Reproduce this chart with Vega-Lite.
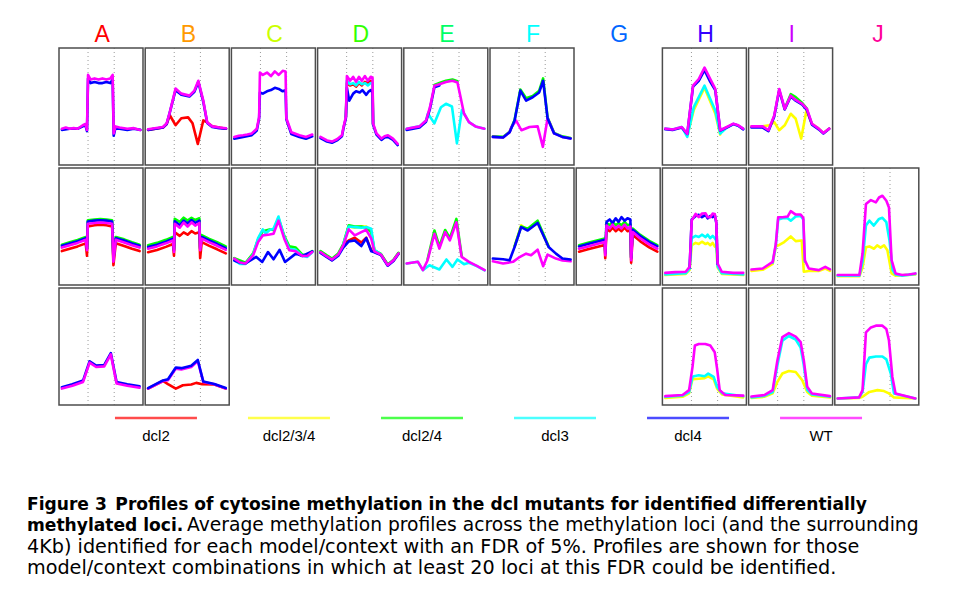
{
"$schema": "https://vega.github.io/schema/vega-lite/v6.json",
"background": "white",
"padding": {"left": 27, "top": 23, "right": 5, "bottom": 5},
"spacing": 0,
"resolve": {"scale": {"color": "independent", "x": "independent", "y": "independent"}},
"config": {"view": {"stroke": null}, "font": "Liberation Sans"},
"vconcat": [
{
"data": {"values": [{"c":"A"},{"c":"B"},{"c":"C"},{"c":"D"},{"c":"E"},{"c":"F"},{"c":"G"},{"c":"H"},{"c":"I"},{"c":"J"}]},
"width": 862,
"height": 24,
"mark": {"type": "text", "fontSize": 23, "font": "Liberation Sans", "baseline": "middle"},
"encoding": {
  "x": {"field": "c", "type": "nominal", "scale": {"type": "point", "padding": 0.5}, "axis": null},
  "text": {"field": "c"},
  "color": {"field": "c", "type": "nominal", "scale": {"domain": ["A","B","C","D","E","F","G","H","I","J"], "range": ["#ff0000","#ff9900","#ccff00","#33ff00","#00ff66","#00ffff","#0066ff","#3300ff","#cc00ff","#ff0099"]}, "legend": null}
}
},
{
"data": {"values": [
{"c":"A","r":1,"s":"dcl4","x":0,"y":0.30},{"c":"A","r":1,"s":"dcl4","x":0.3,"y":0.31},{"c":"A","r":1,"s":"dcl4","x":0.6,"y":0.31},{"c":"A","r":1,"s":"dcl4","x":0.8,"y":0.33},{"c":"A","r":1,"s":"dcl4","x":0.9,"y":0.34},{"c":"A","r":1,"s":"dcl4","x":0.96,"y":0.29},{"c":"A","r":1,"s":"dcl4","x":1.0,"y":0.74},{"c":"A","r":1,"s":"dcl4","x":1.1,"y":0.70},{"c":"A","r":1,"s":"dcl4","x":1.25,"y":0.71},{"c":"A","r":1,"s":"dcl4","x":1.4,"y":0.70},{"c":"A","r":1,"s":"dcl4","x":1.55,"y":0.70},{"c":"A","r":1,"s":"dcl4","x":1.7,"y":0.71},{"c":"A","r":1,"s":"dcl4","x":1.85,"y":0.70},{"c":"A","r":1,"s":"dcl4","x":1.94,"y":0.73},{"c":"A","r":1,"s":"dcl4","x":1.98,"y":0.25},{"c":"A","r":1,"s":"dcl4","x":2.05,"y":0.32},{"c":"A","r":1,"s":"dcl4","x":2.2,"y":0.31},{"c":"A","r":1,"s":"dcl4","x":2.5,"y":0.30},{"c":"A","r":1,"s":"dcl4","x":2.75,"y":0.31},{"c":"A","r":1,"s":"dcl4","x":3.0,"y":0.30},
{"c":"A","r":1,"s":"WT","x":0,"y":0.31},{"c":"A","r":1,"s":"WT","x":0.15,"y":0.32},{"c":"A","r":1,"s":"WT","x":0.3,"y":0.31},{"c":"A","r":1,"s":"WT","x":0.45,"y":0.315},{"c":"A","r":1,"s":"WT","x":0.6,"y":0.31},{"c":"A","r":1,"s":"WT","x":0.8,"y":0.34},{"c":"A","r":1,"s":"WT","x":0.9,"y":0.35},{"c":"A","r":1,"s":"WT","x":0.96,"y":0.30},{"c":"A","r":1,"s":"WT","x":1.0,"y":0.77},{"c":"A","r":1,"s":"WT","x":1.1,"y":0.73},{"c":"A","r":1,"s":"WT","x":1.25,"y":0.74},{"c":"A","r":1,"s":"WT","x":1.4,"y":0.73},{"c":"A","r":1,"s":"WT","x":1.55,"y":0.74},{"c":"A","r":1,"s":"WT","x":1.7,"y":0.73},{"c":"A","r":1,"s":"WT","x":1.85,"y":0.74},{"c":"A","r":1,"s":"WT","x":1.94,"y":0.77},{"c":"A","r":1,"s":"WT","x":1.98,"y":0.27},{"c":"A","r":1,"s":"WT","x":2.05,"y":0.33},{"c":"A","r":1,"s":"WT","x":2.2,"y":0.32},{"c":"A","r":1,"s":"WT","x":2.5,"y":0.31},{"c":"A","r":1,"s":"WT","x":2.75,"y":0.315},{"c":"A","r":1,"s":"WT","x":3.0,"y":0.30},

{"c":"B","r":1,"s":"dcl2","x":0,"y":0.30},{"c":"B","r":1,"s":"dcl2","x":0.57,"y":0.32},{"c":"B","r":1,"s":"dcl2","x":0.71,"y":0.35},{"c":"B","r":1,"s":"dcl2","x":0.83,"y":0.425},{"c":"B","r":1,"s":"dcl2","x":1.05,"y":0.34},{"c":"B","r":1,"s":"dcl2","x":1.27,"y":0.40},{"c":"B","r":1,"s":"dcl2","x":1.53,"y":0.407},{"c":"B","r":1,"s":"dcl2","x":1.7,"y":0.356},{"c":"B","r":1,"s":"dcl2","x":1.9,"y":0.18},{"c":"B","r":1,"s":"dcl2","x":2.11,"y":0.381},{"c":"B","r":1,"s":"dcl2","x":2.26,"y":0.364},{"c":"B","r":1,"s":"dcl2","x":2.45,"y":0.33},{"c":"B","r":1,"s":"dcl2","x":2.72,"y":0.32},{"c":"B","r":1,"s":"dcl2","x":2.98,"y":0.31},
{"c":"B","r":1,"s":"dcl4","x":0,"y":0.30},{"c":"B","r":1,"s":"dcl4","x":0.57,"y":0.32},{"c":"B","r":1,"s":"dcl4","x":0.71,"y":0.35},{"c":"B","r":1,"s":"dcl4","x":0.83,"y":0.45},{"c":"B","r":1,"s":"dcl4","x":1.05,"y":0.64},{"c":"B","r":1,"s":"dcl4","x":1.27,"y":0.60},{"c":"B","r":1,"s":"dcl4","x":1.58,"y":0.585},{"c":"B","r":1,"s":"dcl4","x":1.77,"y":0.625},{"c":"B","r":1,"s":"dcl4","x":1.92,"y":0.71},{"c":"B","r":1,"s":"dcl4","x":2.11,"y":0.54},{"c":"B","r":1,"s":"dcl4","x":2.26,"y":0.36},{"c":"B","r":1,"s":"dcl4","x":2.45,"y":0.325},{"c":"B","r":1,"s":"dcl4","x":2.72,"y":0.315},{"c":"B","r":1,"s":"dcl4","x":2.98,"y":0.31},
{"c":"B","r":1,"s":"WT","x":0,"y":0.305},{"c":"B","r":1,"s":"WT","x":0.57,"y":0.325},{"c":"B","r":1,"s":"WT","x":0.71,"y":0.356},{"c":"B","r":1,"s":"WT","x":0.83,"y":0.45},{"c":"B","r":1,"s":"WT","x":1.05,"y":0.653},{"c":"B","r":1,"s":"WT","x":1.27,"y":0.61},{"c":"B","r":1,"s":"WT","x":1.58,"y":0.593},{"c":"B","r":1,"s":"WT","x":1.77,"y":0.636},{"c":"B","r":1,"s":"WT","x":1.92,"y":0.72},{"c":"B","r":1,"s":"WT","x":2.11,"y":0.55},{"c":"B","r":1,"s":"WT","x":2.26,"y":0.364},{"c":"B","r":1,"s":"WT","x":2.45,"y":0.33},{"c":"B","r":1,"s":"WT","x":2.72,"y":0.32},{"c":"B","r":1,"s":"WT","x":2.98,"y":0.314},

{"c":"C","r":1,"s":"dcl4","x":0,"y":0.225},{"c":"C","r":1,"s":"dcl4","x":0.34,"y":0.24},{"c":"C","r":1,"s":"dcl4","x":0.67,"y":0.255},{"c":"C","r":1,"s":"dcl4","x":0.86,"y":0.295},{"c":"C","r":1,"s":"dcl4","x":0.95,"y":0.40},{"c":"C","r":1,"s":"dcl4","x":0.98,"y":0.62},{"c":"C","r":1,"s":"dcl4","x":1.09,"y":0.61},{"c":"C","r":1,"s":"dcl4","x":1.25,"y":0.63},{"c":"C","r":1,"s":"dcl4","x":1.4,"y":0.64},{"c":"C","r":1,"s":"dcl4","x":1.55,"y":0.66},{"c":"C","r":1,"s":"dcl4","x":1.7,"y":0.65},{"c":"C","r":1,"s":"dcl4","x":1.85,"y":0.63},{"c":"C","r":1,"s":"dcl4","x":1.96,"y":0.64},{"c":"C","r":1,"s":"dcl4","x":1.99,"y":0.39},{"c":"C","r":1,"s":"dcl4","x":2.18,"y":0.265},{"c":"C","r":1,"s":"dcl4","x":2.49,"y":0.24},{"c":"C","r":1,"s":"dcl4","x":2.74,"y":0.225},{"c":"C","r":1,"s":"dcl4","x":2.98,"y":0.245},
{"c":"C","r":1,"s":"WT","x":0,"y":0.24},{"c":"C","r":1,"s":"WT","x":0.17,"y":0.25},{"c":"C","r":1,"s":"WT","x":0.34,"y":0.254},{"c":"C","r":1,"s":"WT","x":0.5,"y":0.26},{"c":"C","r":1,"s":"WT","x":0.67,"y":0.27},{"c":"C","r":1,"s":"WT","x":0.86,"y":0.31},{"c":"C","r":1,"s":"WT","x":0.95,"y":0.41},{"c":"C","r":1,"s":"WT","x":0.98,"y":0.79},{"c":"C","r":1,"s":"WT","x":1.09,"y":0.77},{"c":"C","r":1,"s":"WT","x":1.25,"y":0.79},{"c":"C","r":1,"s":"WT","x":1.4,"y":0.76},{"c":"C","r":1,"s":"WT","x":1.55,"y":0.80},{"c":"C","r":1,"s":"WT","x":1.7,"y":0.77},{"c":"C","r":1,"s":"WT","x":1.85,"y":0.805},{"c":"C","r":1,"s":"WT","x":1.96,"y":0.80},{"c":"C","r":1,"s":"WT","x":1.99,"y":0.40},{"c":"C","r":1,"s":"WT","x":2.18,"y":0.28},{"c":"C","r":1,"s":"WT","x":2.49,"y":0.254},{"c":"C","r":1,"s":"WT","x":2.74,"y":0.24},{"c":"C","r":1,"s":"WT","x":2.98,"y":0.26},

{"c":"D","r":1,"s":"dcl2","x":0.97,"y":0.41},{"c":"D","r":1,"s":"dcl2","x":1.01,"y":0.70},{"c":"D","r":1,"s":"dcl2","x":1.13,"y":0.68},{"c":"D","r":1,"s":"dcl2","x":1.25,"y":0.69},{"c":"D","r":1,"s":"dcl2","x":1.36,"y":0.67},{"c":"D","r":1,"s":"dcl2","x":1.47,"y":0.70},{"c":"D","r":1,"s":"dcl2","x":1.58,"y":0.68},{"c":"D","r":1,"s":"dcl2","x":1.7,"y":0.71},{"c":"D","r":1,"s":"dcl2","x":1.81,"y":0.70},{"c":"D","r":1,"s":"dcl2","x":1.92,"y":0.72},{"c":"D","r":1,"s":"dcl2","x":1.99,"y":0.70},{"c":"D","r":1,"s":"dcl2","x":2.01,"y":0.35},
{"c":"D","r":1,"s":"dcl3","x":0.97,"y":0.41},{"c":"D","r":1,"s":"dcl3","x":1.01,"y":0.72},{"c":"D","r":1,"s":"dcl3","x":1.13,"y":0.69},{"c":"D","r":1,"s":"dcl3","x":1.25,"y":0.70},{"c":"D","r":1,"s":"dcl3","x":1.36,"y":0.68},{"c":"D","r":1,"s":"dcl3","x":1.47,"y":0.71},{"c":"D","r":1,"s":"dcl3","x":1.58,"y":0.69},{"c":"D","r":1,"s":"dcl3","x":1.7,"y":0.70},{"c":"D","r":1,"s":"dcl3","x":1.81,"y":0.68},{"c":"D","r":1,"s":"dcl3","x":1.92,"y":0.70},{"c":"D","r":1,"s":"dcl3","x":1.99,"y":0.70},{"c":"D","r":1,"s":"dcl3","x":2.01,"y":0.35},
{"c":"D","r":1,"s":"dcl4","x":0,"y":0.23},{"c":"D","r":1,"s":"dcl4","x":0.25,"y":0.20},{"c":"D","r":1,"s":"dcl4","x":0.44,"y":0.19},{"c":"D","r":1,"s":"dcl4","x":0.63,"y":0.21},{"c":"D","r":1,"s":"dcl4","x":0.82,"y":0.245},{"c":"D","r":1,"s":"dcl4","x":0.88,"y":0.315},{"c":"D","r":1,"s":"dcl4","x":0.97,"y":0.40},{"c":"D","r":1,"s":"dcl4","x":1.01,"y":0.66},{"c":"D","r":1,"s":"dcl4","x":1.1,"y":0.55},{"c":"D","r":1,"s":"dcl4","x":1.25,"y":0.61},{"c":"D","r":1,"s":"dcl4","x":1.36,"y":0.63},{"c":"D","r":1,"s":"dcl4","x":1.5,"y":0.62},{"c":"D","r":1,"s":"dcl4","x":1.6,"y":0.64},{"c":"D","r":1,"s":"dcl4","x":1.75,"y":0.60},{"c":"D","r":1,"s":"dcl4","x":1.85,"y":0.63},{"c":"D","r":1,"s":"dcl4","x":1.92,"y":0.64},{"c":"D","r":1,"s":"dcl4","x":1.99,"y":0.62},{"c":"D","r":1,"s":"dcl4","x":2.01,"y":0.345},{"c":"D","r":1,"s":"dcl4","x":2.14,"y":0.26},{"c":"D","r":1,"s":"dcl4","x":2.33,"y":0.215},{"c":"D","r":1,"s":"dcl4","x":2.45,"y":0.235},{"c":"D","r":1,"s":"dcl4","x":2.58,"y":0.24},{"c":"D","r":1,"s":"dcl4","x":2.77,"y":0.215},{"c":"D","r":1,"s":"dcl4","x":2.95,"y":0.17},
{"c":"D","r":1,"s":"WT","x":0,"y":0.24},{"c":"D","r":1,"s":"WT","x":0.25,"y":0.21},{"c":"D","r":1,"s":"WT","x":0.44,"y":0.20},{"c":"D","r":1,"s":"WT","x":0.63,"y":0.22},{"c":"D","r":1,"s":"WT","x":0.82,"y":0.254},{"c":"D","r":1,"s":"WT","x":0.88,"y":0.325},{"c":"D","r":1,"s":"WT","x":0.97,"y":0.41},{"c":"D","r":1,"s":"WT","x":1.01,"y":0.76},{"c":"D","r":1,"s":"WT","x":1.13,"y":0.72},{"c":"D","r":1,"s":"WT","x":1.25,"y":0.754},{"c":"D","r":1,"s":"WT","x":1.36,"y":0.71},{"c":"D","r":1,"s":"WT","x":1.47,"y":0.754},{"c":"D","r":1,"s":"WT","x":1.58,"y":0.72},{"c":"D","r":1,"s":"WT","x":1.7,"y":0.76},{"c":"D","r":1,"s":"WT","x":1.81,"y":0.72},{"c":"D","r":1,"s":"WT","x":1.92,"y":0.754},{"c":"D","r":1,"s":"WT","x":1.99,"y":0.746},{"c":"D","r":1,"s":"WT","x":2.01,"y":0.356},{"c":"D","r":1,"s":"WT","x":2.14,"y":0.27},{"c":"D","r":1,"s":"WT","x":2.33,"y":0.226},{"c":"D","r":1,"s":"WT","x":2.45,"y":0.246},{"c":"D","r":1,"s":"WT","x":2.58,"y":0.254},{"c":"D","r":1,"s":"WT","x":2.77,"y":0.226},{"c":"D","r":1,"s":"WT","x":2.95,"y":0.18},

{"c":"E","r":1,"s":"dcl2/4","x":1.06,"y":0.685},{"c":"E","r":1,"s":"dcl2/4","x":1.25,"y":0.70},{"c":"E","r":1,"s":"dcl2/4","x":1.5,"y":0.72},{"c":"E","r":1,"s":"dcl2/4","x":1.75,"y":0.73},{"c":"E","r":1,"s":"dcl2/4","x":1.94,"y":0.715},
{"c":"E","r":1,"s":"dcl3","x":0,"y":0.31},{"c":"E","r":1,"s":"dcl3","x":0.49,"y":0.33},{"c":"E","r":1,"s":"dcl3","x":0.74,"y":0.38},{"c":"E","r":1,"s":"dcl3","x":0.81,"y":0.44},{"c":"E","r":1,"s":"dcl3","x":1.06,"y":0.356},{"c":"E","r":1,"s":"dcl3","x":1.31,"y":0.494},{"c":"E","r":1,"s":"dcl3","x":1.5,"y":0.523},{"c":"E","r":1,"s":"dcl3","x":1.73,"y":0.50},{"c":"E","r":1,"s":"dcl3","x":1.92,"y":0.185},{"c":"E","r":1,"s":"dcl3","x":2.11,"y":0.47},{"c":"E","r":1,"s":"dcl3","x":2.19,"y":0.44},{"c":"E","r":1,"s":"dcl3","x":2.38,"y":0.367},{"c":"E","r":1,"s":"dcl3","x":2.63,"y":0.33},{"c":"E","r":1,"s":"dcl3","x":2.97,"y":0.31},
{"c":"E","r":1,"s":"dcl4","x":0,"y":0.30},{"c":"E","r":1,"s":"dcl4","x":0.49,"y":0.32},{"c":"E","r":1,"s":"dcl4","x":0.74,"y":0.37},{"c":"E","r":1,"s":"dcl4","x":0.89,"y":0.48},{"c":"E","r":1,"s":"dcl4","x":1.06,"y":0.665},{"c":"E","r":1,"s":"dcl4","x":1.25,"y":0.68},
{"c":"E","r":1,"s":"WT","x":0,"y":0.31},{"c":"E","r":1,"s":"WT","x":0.49,"y":0.33},{"c":"E","r":1,"s":"WT","x":0.74,"y":0.38},{"c":"E","r":1,"s":"WT","x":0.89,"y":0.494},{"c":"E","r":1,"s":"WT","x":1.06,"y":0.678},{"c":"E","r":1,"s":"WT","x":1.25,"y":0.69},{"c":"E","r":1,"s":"WT","x":1.5,"y":0.71},{"c":"E","r":1,"s":"WT","x":1.75,"y":0.72},{"c":"E","r":1,"s":"WT","x":1.94,"y":0.706},{"c":"E","r":1,"s":"WT","x":2.06,"y":0.579},{"c":"E","r":1,"s":"WT","x":2.19,"y":0.44},{"c":"E","r":1,"s":"WT","x":2.38,"y":0.367},{"c":"E","r":1,"s":"WT","x":2.63,"y":0.33},{"c":"E","r":1,"s":"WT","x":2.97,"y":0.31},

{"c":"F","r":1,"s":"dcl2/4","x":0,"y":0.245},{"c":"F","r":1,"s":"dcl2/4","x":0.39,"y":0.24},{"c":"F","r":1,"s":"dcl2/4","x":0.64,"y":0.285},{"c":"F","r":1,"s":"dcl2/4","x":0.83,"y":0.385},{"c":"F","r":1,"s":"dcl2/4","x":1.05,"y":0.645},{"c":"F","r":1,"s":"dcl2/4","x":1.27,"y":0.57},{"c":"F","r":1,"s":"dcl2/4","x":1.52,"y":0.59},{"c":"F","r":1,"s":"dcl2/4","x":1.77,"y":0.635},{"c":"F","r":1,"s":"dcl2/4","x":1.92,"y":0.74},{"c":"F","r":1,"s":"dcl2/4","x":2.09,"y":0.405},{"c":"F","r":1,"s":"dcl2/4","x":2.34,"y":0.275},{"c":"F","r":1,"s":"dcl2/4","x":2.65,"y":0.245},{"c":"F","r":1,"s":"dcl2/4","x":2.97,"y":0.23},
{"c":"F","r":1,"s":"WT","x":0,"y":0.24},{"c":"F","r":1,"s":"WT","x":0.39,"y":0.235},{"c":"F","r":1,"s":"WT","x":0.64,"y":0.28},{"c":"F","r":1,"s":"WT","x":0.7,"y":0.32},{"c":"F","r":1,"s":"WT","x":0.89,"y":0.38},{"c":"F","r":1,"s":"WT","x":1.09,"y":0.297},{"c":"F","r":1,"s":"WT","x":1.4,"y":0.325},{"c":"F","r":1,"s":"WT","x":1.71,"y":0.33},{"c":"F","r":1,"s":"WT","x":1.91,"y":0.155},{"c":"F","r":1,"s":"WT","x":2.09,"y":0.40},{"c":"F","r":1,"s":"WT","x":2.34,"y":0.27},{"c":"F","r":1,"s":"WT","x":2.65,"y":0.24},{"c":"F","r":1,"s":"WT","x":2.97,"y":0.226},
{"c":"F","r":1,"s":"dcl4","x":0,"y":0.24},{"c":"F","r":1,"s":"dcl4","x":0.39,"y":0.235},{"c":"F","r":1,"s":"dcl4","x":0.64,"y":0.28},{"c":"F","r":1,"s":"dcl4","x":0.83,"y":0.38},{"c":"F","r":1,"s":"dcl4","x":1.05,"y":0.636},{"c":"F","r":1,"s":"dcl4","x":1.27,"y":0.55},{"c":"F","r":1,"s":"dcl4","x":1.52,"y":0.579},{"c":"F","r":1,"s":"dcl4","x":1.77,"y":0.62},{"c":"F","r":1,"s":"dcl4","x":1.92,"y":0.72},{"c":"F","r":1,"s":"dcl4","x":2.09,"y":0.40},{"c":"F","r":1,"s":"dcl4","x":2.34,"y":0.27},{"c":"F","r":1,"s":"dcl4","x":2.65,"y":0.24},{"c":"F","r":1,"s":"dcl4","x":2.97,"y":0.226},

{"c":"H","r":1,"s":"dcl2/3/4","x":0.84,"y":0.25},{"c":"H","r":1,"s":"dcl2/3/4","x":1.09,"y":0.47},{"c":"H","r":1,"s":"dcl2/3/4","x":1.5,"y":0.66},{"c":"H","r":1,"s":"dcl2/3/4","x":1.91,"y":0.44},{"c":"H","r":1,"s":"dcl2/3/4","x":2.1,"y":0.26},
{"c":"H","r":1,"s":"dcl3","x":0,"y":0.311},{"c":"H","r":1,"s":"dcl3","x":0.28,"y":0.303},{"c":"H","r":1,"s":"dcl3","x":0.63,"y":0.325},{"c":"H","r":1,"s":"dcl3","x":0.84,"y":0.24},{"c":"H","r":1,"s":"dcl3","x":1.09,"y":0.494},{"c":"H","r":1,"s":"dcl3","x":1.5,"y":0.678},{"c":"H","r":1,"s":"dcl3","x":1.91,"y":0.466},{"c":"H","r":1,"s":"dcl3","x":2.1,"y":0.268},{"c":"H","r":1,"s":"dcl3","x":2.35,"y":0.32},{"c":"H","r":1,"s":"dcl3","x":2.6,"y":0.35},{"c":"H","r":1,"s":"dcl3","x":2.79,"y":0.335},{"c":"H","r":1,"s":"dcl3","x":2.98,"y":0.31},
{"c":"H","r":1,"s":"dcl4","x":0,"y":0.305},{"c":"H","r":1,"s":"dcl4","x":0.28,"y":0.30},{"c":"H","r":1,"s":"dcl4","x":0.63,"y":0.32},{"c":"H","r":1,"s":"dcl4","x":0.84,"y":0.265},{"c":"H","r":1,"s":"dcl4","x":1.06,"y":0.67},{"c":"H","r":1,"s":"dcl4","x":1.28,"y":0.72},{"c":"H","r":1,"s":"dcl4","x":1.5,"y":0.81},{"c":"H","r":1,"s":"dcl4","x":1.72,"y":0.71},{"c":"H","r":1,"s":"dcl4","x":1.91,"y":0.64},{"c":"H","r":1,"s":"dcl4","x":2.1,"y":0.295},{"c":"H","r":1,"s":"dcl4","x":2.35,"y":0.32},{"c":"H","r":1,"s":"dcl4","x":2.6,"y":0.35},{"c":"H","r":1,"s":"dcl4","x":2.79,"y":0.335},{"c":"H","r":1,"s":"dcl4","x":2.98,"y":0.305},
{"c":"H","r":1,"s":"WT","x":0,"y":0.311},{"c":"H","r":1,"s":"WT","x":0.28,"y":0.303},{"c":"H","r":1,"s":"WT","x":0.63,"y":0.325},{"c":"H","r":1,"s":"WT","x":0.84,"y":0.268},{"c":"H","r":1,"s":"WT","x":1.06,"y":0.678},{"c":"H","r":1,"s":"WT","x":1.28,"y":0.735},{"c":"H","r":1,"s":"WT","x":1.5,"y":0.833},{"c":"H","r":1,"s":"WT","x":1.72,"y":0.735},{"c":"H","r":1,"s":"WT","x":1.91,"y":0.65},{"c":"H","r":1,"s":"WT","x":2.1,"y":0.297},{"c":"H","r":1,"s":"WT","x":2.35,"y":0.325},{"c":"H","r":1,"s":"WT","x":2.6,"y":0.353},{"c":"H","r":1,"s":"WT","x":2.79,"y":0.339},{"c":"H","r":1,"s":"WT","x":2.98,"y":0.311},

{"c":"I","r":1,"s":"dcl2/3/4","x":0,"y":0.33},{"c":"I","r":1,"s":"dcl2/3/4","x":0.43,"y":0.33},{"c":"I","r":1,"s":"dcl2/3/4","x":0.68,"y":0.339},{"c":"I","r":1,"s":"dcl2/3/4","x":0.87,"y":0.367},{"c":"I","r":1,"s":"dcl2/3/4","x":1.06,"y":0.297},{"c":"I","r":1,"s":"dcl2/3/4","x":1.27,"y":0.339},{"c":"I","r":1,"s":"dcl2/3/4","x":1.5,"y":0.438},{"c":"I","r":1,"s":"dcl2/3/4","x":1.69,"y":0.395},{"c":"I","r":1,"s":"dcl2/3/4","x":1.9,"y":0.226},{"c":"I","r":1,"s":"dcl2/3/4","x":2.1,"y":0.466},{"c":"I","r":1,"s":"dcl2/3/4","x":2.31,"y":0.353},{"c":"I","r":1,"s":"dcl2/3/4","x":2.57,"y":0.311},{"c":"I","r":1,"s":"dcl2/3/4","x":2.75,"y":0.274},{"c":"I","r":1,"s":"dcl2/3/4","x":2.97,"y":0.311},
{"c":"I","r":1,"s":"dcl2/4","x":1.27,"y":0.48},{"c":"I","r":1,"s":"dcl2/4","x":1.5,"y":0.605},{"c":"I","r":1,"s":"dcl2/4","x":1.69,"y":0.58},{"c":"I","r":1,"s":"dcl2/4","x":1.94,"y":0.53},{"c":"I","r":1,"s":"dcl2/4","x":2.12,"y":0.48},
{"c":"I","r":1,"s":"dcl4","x":0,"y":0.32},{"c":"I","r":1,"s":"dcl4","x":0.43,"y":0.32},{"c":"I","r":1,"s":"dcl4","x":0.65,"y":0.29},{"c":"I","r":1,"s":"dcl4","x":0.87,"y":0.415},{"c":"I","r":1,"s":"dcl4","x":1.06,"y":0.64},{"c":"I","r":1,"s":"dcl4","x":1.27,"y":0.475},{"c":"I","r":1,"s":"dcl4","x":1.5,"y":0.585},{"c":"I","r":1,"s":"dcl4","x":1.69,"y":0.55},{"c":"I","r":1,"s":"dcl4","x":1.94,"y":0.515},{"c":"I","r":1,"s":"dcl4","x":2.12,"y":0.47},{"c":"I","r":1,"s":"dcl4","x":2.31,"y":0.345},{"c":"I","r":1,"s":"dcl4","x":2.57,"y":0.305},{"c":"I","r":1,"s":"dcl4","x":2.75,"y":0.27},{"c":"I","r":1,"s":"dcl4","x":2.97,"y":0.31},
{"c":"I","r":1,"s":"WT","x":0,"y":0.33},{"c":"I","r":1,"s":"WT","x":0.43,"y":0.33},{"c":"I","r":1,"s":"WT","x":0.65,"y":0.297},{"c":"I","r":1,"s":"WT","x":0.87,"y":0.424},{"c":"I","r":1,"s":"WT","x":1.06,"y":0.65},{"c":"I","r":1,"s":"WT","x":1.27,"y":0.48},{"c":"I","r":1,"s":"WT","x":1.5,"y":0.593},{"c":"I","r":1,"s":"WT","x":1.69,"y":0.556},{"c":"I","r":1,"s":"WT","x":1.94,"y":0.523},{"c":"I","r":1,"s":"WT","x":2.12,"y":0.48},{"c":"I","r":1,"s":"WT","x":2.31,"y":0.353},{"c":"I","r":1,"s":"WT","x":2.57,"y":0.311},{"c":"I","r":1,"s":"WT","x":2.75,"y":0.274},{"c":"I","r":1,"s":"WT","x":2.97,"y":0.311},

{"c":"A","r":2,"s":"dcl2","x":0,"y":0.29},{"c":"A","r":2,"s":"dcl2","x":0.3,"y":0.31},{"c":"A","r":2,"s":"dcl2","x":0.6,"y":0.33},{"c":"A","r":2,"s":"dcl2","x":0.91,"y":0.356},{"c":"A","r":2,"s":"dcl2","x":0.96,"y":0.25},{"c":"A","r":2,"s":"dcl2","x":0.99,"y":0.50},{"c":"A","r":2,"s":"dcl2","x":1.25,"y":0.51},{"c":"A","r":2,"s":"dcl2","x":1.47,"y":0.515},{"c":"A","r":2,"s":"dcl2","x":1.7,"y":0.51},{"c":"A","r":2,"s":"dcl2","x":1.92,"y":0.50},{"c":"A","r":2,"s":"dcl2","x":1.97,"y":0.17},{"c":"A","r":2,"s":"dcl2","x":2.06,"y":0.357},{"c":"A","r":2,"s":"dcl2","x":2.38,"y":0.334},{"c":"A","r":2,"s":"dcl2","x":2.68,"y":0.31},{"c":"A","r":2,"s":"dcl2","x":2.97,"y":0.29},
{"c":"A","r":2,"s":"dcl2/4","x":0,"y":0.345},{"c":"A","r":2,"s":"dcl2/4","x":0.3,"y":0.365},{"c":"A","r":2,"s":"dcl2/4","x":0.6,"y":0.385},{"c":"A","r":2,"s":"dcl2/4","x":0.91,"y":0.41},{"c":"A","r":2,"s":"dcl2/4","x":0.96,"y":0.32},{"c":"A","r":2,"s":"dcl2/4","x":0.99,"y":0.553},{"c":"A","r":2,"s":"dcl2/4","x":1.25,"y":0.56},{"c":"A","r":2,"s":"dcl2/4","x":1.47,"y":0.564},{"c":"A","r":2,"s":"dcl2/4","x":1.7,"y":0.56},{"c":"A","r":2,"s":"dcl2/4","x":1.92,"y":0.553},{"c":"A","r":2,"s":"dcl2/4","x":1.97,"y":0.23},{"c":"A","r":2,"s":"dcl2/4","x":2.06,"y":0.41},{"c":"A","r":2,"s":"dcl2/4","x":2.38,"y":0.39},{"c":"A","r":2,"s":"dcl2/4","x":2.68,"y":0.365},{"c":"A","r":2,"s":"dcl2/4","x":2.97,"y":0.345},
{"c":"A","r":2,"s":"dcl4","x":0,"y":0.335},{"c":"A","r":2,"s":"dcl4","x":0.3,"y":0.355},{"c":"A","r":2,"s":"dcl4","x":0.6,"y":0.375},{"c":"A","r":2,"s":"dcl4","x":0.91,"y":0.40},{"c":"A","r":2,"s":"dcl4","x":0.96,"y":0.31},{"c":"A","r":2,"s":"dcl4","x":0.99,"y":0.543},{"c":"A","r":2,"s":"dcl4","x":1.25,"y":0.55},{"c":"A","r":2,"s":"dcl4","x":1.47,"y":0.554},{"c":"A","r":2,"s":"dcl4","x":1.7,"y":0.55},{"c":"A","r":2,"s":"dcl4","x":1.92,"y":0.543},{"c":"A","r":2,"s":"dcl4","x":1.97,"y":0.22},{"c":"A","r":2,"s":"dcl4","x":2.06,"y":0.40},{"c":"A","r":2,"s":"dcl4","x":2.38,"y":0.38},{"c":"A","r":2,"s":"dcl4","x":2.68,"y":0.355},{"c":"A","r":2,"s":"dcl4","x":2.97,"y":0.335},
{"c":"A","r":2,"s":"WT","x":0,"y":0.32},{"c":"A","r":2,"s":"WT","x":0.3,"y":0.34},{"c":"A","r":2,"s":"WT","x":0.6,"y":0.36},{"c":"A","r":2,"s":"WT","x":0.91,"y":0.386},{"c":"A","r":2,"s":"WT","x":0.96,"y":0.297},{"c":"A","r":2,"s":"WT","x":0.99,"y":0.523},{"c":"A","r":2,"s":"WT","x":1.25,"y":0.53},{"c":"A","r":2,"s":"WT","x":1.47,"y":0.534},{"c":"A","r":2,"s":"WT","x":1.7,"y":0.53},{"c":"A","r":2,"s":"WT","x":1.92,"y":0.523},{"c":"A","r":2,"s":"WT","x":1.97,"y":0.20},{"c":"A","r":2,"s":"WT","x":2.06,"y":0.387},{"c":"A","r":2,"s":"WT","x":2.38,"y":0.364},{"c":"A","r":2,"s":"WT","x":2.68,"y":0.34},{"c":"A","r":2,"s":"WT","x":2.97,"y":0.32},

{"c":"B","r":2,"s":"dcl2","x":0,"y":0.28},{"c":"B","r":2,"s":"dcl2","x":0.34,"y":0.30},{"c":"B","r":2,"s":"dcl2","x":0.68,"y":0.326},{"c":"B","r":2,"s":"dcl2","x":0.95,"y":0.35},{"c":"B","r":2,"s":"dcl2","x":0.99,"y":0.25},{"c":"B","r":2,"s":"dcl2","x":1.02,"y":0.45},{"c":"B","r":2,"s":"dcl2","x":1.21,"y":0.42},{"c":"B","r":2,"s":"dcl2","x":1.36,"y":0.45},{"c":"B","r":2,"s":"dcl2","x":1.51,"y":0.43},{"c":"B","r":2,"s":"dcl2","x":1.66,"y":0.46},{"c":"B","r":2,"s":"dcl2","x":1.8,"y":0.44},{"c":"B","r":2,"s":"dcl2","x":1.96,"y":0.45},{"c":"B","r":2,"s":"dcl2","x":1.99,"y":0.23},{"c":"B","r":2,"s":"dcl2","x":2.05,"y":0.366},{"c":"B","r":2,"s":"dcl2","x":2.34,"y":0.334},{"c":"B","r":2,"s":"dcl2","x":2.64,"y":0.305},{"c":"B","r":2,"s":"dcl2","x":2.97,"y":0.27},
{"c":"B","r":2,"s":"dcl2/4","x":0,"y":0.34},{"c":"B","r":2,"s":"dcl2/4","x":0.34,"y":0.36},{"c":"B","r":2,"s":"dcl2/4","x":0.68,"y":0.386},{"c":"B","r":2,"s":"dcl2/4","x":0.95,"y":0.41},{"c":"B","r":2,"s":"dcl2/4","x":0.99,"y":0.31},{"c":"B","r":2,"s":"dcl2/4","x":1.02,"y":0.565},{"c":"B","r":2,"s":"dcl2/4","x":1.21,"y":0.54},{"c":"B","r":2,"s":"dcl2/4","x":1.36,"y":0.575},{"c":"B","r":2,"s":"dcl2/4","x":1.51,"y":0.55},{"c":"B","r":2,"s":"dcl2/4","x":1.66,"y":0.575},{"c":"B","r":2,"s":"dcl2/4","x":1.8,"y":0.555},{"c":"B","r":2,"s":"dcl2/4","x":1.96,"y":0.57},{"c":"B","r":2,"s":"dcl2/4","x":1.99,"y":0.32},{"c":"B","r":2,"s":"dcl2/4","x":2.05,"y":0.426},{"c":"B","r":2,"s":"dcl2/4","x":2.34,"y":0.394},{"c":"B","r":2,"s":"dcl2/4","x":2.64,"y":0.365},{"c":"B","r":2,"s":"dcl2/4","x":2.97,"y":0.33},
{"c":"B","r":2,"s":"dcl4","x":0,"y":0.325},{"c":"B","r":2,"s":"dcl4","x":0.34,"y":0.345},{"c":"B","r":2,"s":"dcl4","x":0.68,"y":0.37},{"c":"B","r":2,"s":"dcl4","x":0.95,"y":0.395},{"c":"B","r":2,"s":"dcl4","x":0.99,"y":0.295},{"c":"B","r":2,"s":"dcl4","x":1.02,"y":0.545},{"c":"B","r":2,"s":"dcl4","x":1.21,"y":0.51},{"c":"B","r":2,"s":"dcl4","x":1.36,"y":0.55},{"c":"B","r":2,"s":"dcl4","x":1.51,"y":0.525},{"c":"B","r":2,"s":"dcl4","x":1.66,"y":0.555},{"c":"B","r":2,"s":"dcl4","x":1.8,"y":0.53},{"c":"B","r":2,"s":"dcl4","x":1.96,"y":0.55},{"c":"B","r":2,"s":"dcl4","x":1.99,"y":0.31},{"c":"B","r":2,"s":"dcl4","x":2.05,"y":0.41},{"c":"B","r":2,"s":"dcl4","x":2.34,"y":0.38},{"c":"B","r":2,"s":"dcl4","x":2.64,"y":0.35},{"c":"B","r":2,"s":"dcl4","x":2.97,"y":0.315},
{"c":"B","r":2,"s":"WT","x":0,"y":0.31},{"c":"B","r":2,"s":"WT","x":0.34,"y":0.33},{"c":"B","r":2,"s":"WT","x":0.68,"y":0.356},{"c":"B","r":2,"s":"WT","x":0.95,"y":0.38},{"c":"B","r":2,"s":"WT","x":0.99,"y":0.282},{"c":"B","r":2,"s":"WT","x":1.02,"y":0.523},{"c":"B","r":2,"s":"WT","x":1.21,"y":0.49},{"c":"B","r":2,"s":"WT","x":1.36,"y":0.534},{"c":"B","r":2,"s":"WT","x":1.51,"y":0.50},{"c":"B","r":2,"s":"WT","x":1.66,"y":0.536},{"c":"B","r":2,"s":"WT","x":1.8,"y":0.508},{"c":"B","r":2,"s":"WT","x":1.96,"y":0.53},{"c":"B","r":2,"s":"WT","x":1.99,"y":0.297},{"c":"B","r":2,"s":"WT","x":2.05,"y":0.396},{"c":"B","r":2,"s":"WT","x":2.34,"y":0.364},{"c":"B","r":2,"s":"WT","x":2.64,"y":0.335},{"c":"B","r":2,"s":"WT","x":2.97,"y":0.30},

{"c":"C","r":2,"s":"dcl2/4","x":0,"y":0.23},{"c":"C","r":2,"s":"dcl2/4","x":0.43,"y":0.19},{"c":"C","r":2,"s":"dcl2/4","x":0.72,"y":0.27},{"c":"C","r":2,"s":"dcl2/4","x":0.91,"y":0.39},{"c":"C","r":2,"s":"dcl2/4","x":1.09,"y":0.46},{"c":"C","r":2,"s":"dcl2/4","x":1.35,"y":0.475},{"c":"C","r":2,"s":"dcl2/4","x":1.5,"y":0.47},{"c":"C","r":2,"s":"dcl2/4","x":1.69,"y":0.57},{"c":"C","r":2,"s":"dcl2/4","x":1.91,"y":0.42},{"c":"C","r":2,"s":"dcl2/4","x":2.1,"y":0.33},{"c":"C","r":2,"s":"dcl2/4","x":2.35,"y":0.32},{"c":"C","r":2,"s":"dcl2/4","x":2.6,"y":0.26},{"c":"C","r":2,"s":"dcl2/4","x":2.79,"y":0.25},{"c":"C","r":2,"s":"dcl2/4","x":2.98,"y":0.29},
{"c":"C","r":2,"s":"dcl3","x":0,"y":0.21},{"c":"C","r":2,"s":"dcl3","x":0.22,"y":0.18},{"c":"C","r":2,"s":"dcl3","x":0.43,"y":0.18},{"c":"C","r":2,"s":"dcl3","x":0.72,"y":0.26},{"c":"C","r":2,"s":"dcl3","x":0.91,"y":0.40},{"c":"C","r":2,"s":"dcl3","x":1.09,"y":0.475},{"c":"C","r":2,"s":"dcl3","x":1.2,"y":0.44},{"c":"C","r":2,"s":"dcl3","x":1.35,"y":0.47},{"c":"C","r":2,"s":"dcl3","x":1.5,"y":0.48},{"c":"C","r":2,"s":"dcl3","x":1.69,"y":0.585},{"c":"C","r":2,"s":"dcl3","x":1.91,"y":0.41},{"c":"C","r":2,"s":"dcl3","x":2.1,"y":0.31},{"c":"C","r":2,"s":"dcl3","x":2.35,"y":0.30},{"c":"C","r":2,"s":"dcl3","x":2.6,"y":0.25},{"c":"C","r":2,"s":"dcl3","x":2.79,"y":0.24},{"c":"C","r":2,"s":"dcl3","x":2.98,"y":0.28},
{"c":"C","r":2,"s":"dcl4","x":0,"y":0.21},{"c":"C","r":2,"s":"dcl4","x":0.22,"y":0.19},{"c":"C","r":2,"s":"dcl4","x":0.43,"y":0.184},{"c":"C","r":2,"s":"dcl4","x":0.84,"y":0.24},{"c":"C","r":2,"s":"dcl4","x":1.07,"y":0.197},{"c":"C","r":2,"s":"dcl4","x":1.29,"y":0.282},{"c":"C","r":2,"s":"dcl4","x":1.5,"y":0.22},{"c":"C","r":2,"s":"dcl4","x":1.73,"y":0.30},{"c":"C","r":2,"s":"dcl4","x":1.94,"y":0.197},{"c":"C","r":2,"s":"dcl4","x":2.35,"y":0.268},{"c":"C","r":2,"s":"dcl4","x":2.6,"y":0.248},{"c":"C","r":2,"s":"dcl4","x":2.98,"y":0.288},
{"c":"C","r":2,"s":"WT","x":0,"y":0.226},{"c":"C","r":2,"s":"WT","x":0.22,"y":0.192},{"c":"C","r":2,"s":"WT","x":0.43,"y":0.184},{"c":"C","r":2,"s":"WT","x":0.72,"y":0.254},{"c":"C","r":2,"s":"WT","x":0.91,"y":0.367},{"c":"C","r":2,"s":"WT","x":1.09,"y":0.424},{"c":"C","r":2,"s":"WT","x":1.35,"y":0.432},{"c":"C","r":2,"s":"WT","x":1.5,"y":0.438},{"c":"C","r":2,"s":"WT","x":1.69,"y":0.55},{"c":"C","r":2,"s":"WT","x":1.91,"y":0.396},{"c":"C","r":2,"s":"WT","x":2.1,"y":0.297},{"c":"C","r":2,"s":"WT","x":2.35,"y":0.288},{"c":"C","r":2,"s":"WT","x":2.6,"y":0.248},{"c":"C","r":2,"s":"WT","x":2.79,"y":0.248},{"c":"C","r":2,"s":"WT","x":2.98,"y":0.282},

{"c":"D","r":2,"s":"dcl2","x":0,"y":0.28},{"c":"D","r":2,"s":"dcl2","x":0.44,"y":0.215},{"c":"D","r":2,"s":"dcl2","x":0.68,"y":0.26},{"c":"D","r":2,"s":"dcl2","x":0.87,"y":0.339},{"c":"D","r":2,"s":"dcl2","x":1.08,"y":0.381},{"c":"D","r":2,"s":"dcl2","x":1.31,"y":0.404},{"c":"D","r":2,"s":"dcl2","x":1.56,"y":0.362},{"c":"D","r":2,"s":"dcl2","x":1.75,"y":0.404},{"c":"D","r":2,"s":"dcl2","x":1.94,"y":0.297},{"c":"D","r":2,"s":"dcl2","x":2.06,"y":0.285},{"c":"D","r":2,"s":"dcl2","x":2.31,"y":0.26},{"c":"D","r":2,"s":"dcl2","x":2.57,"y":0.17},{"c":"D","r":2,"s":"dcl2","x":2.79,"y":0.21},{"c":"D","r":2,"s":"dcl2","x":2.98,"y":0.27},
{"c":"D","r":2,"s":"dcl2/3/4","x":0.87,"y":0.345},{"c":"D","r":2,"s":"dcl2/3/4","x":1.08,"y":0.50},{"c":"D","r":2,"s":"dcl2/3/4","x":1.31,"y":0.49},{"c":"D","r":2,"s":"dcl2/3/4","x":1.56,"y":0.50},{"c":"D","r":2,"s":"dcl2/3/4","x":1.75,"y":0.50},{"c":"D","r":2,"s":"dcl2/3/4","x":1.94,"y":0.46},{"c":"D","r":2,"s":"dcl2/3/4","x":2.06,"y":0.29},
{"c":"D","r":2,"s":"dcl2/4","x":0,"y":0.29},{"c":"D","r":2,"s":"dcl2/4","x":0.23,"y":0.255},{"c":"D","r":2,"s":"dcl2/4","x":0.44,"y":0.225},{"c":"D","r":2,"s":"dcl2/4","x":0.68,"y":0.27},{"c":"D","r":2,"s":"dcl2/4","x":0.87,"y":0.35},{"c":"D","r":2,"s":"dcl2/4","x":1.08,"y":0.51},{"c":"D","r":2,"s":"dcl2/4","x":1.31,"y":0.50},{"c":"D","r":2,"s":"dcl2/4","x":1.56,"y":0.50},{"c":"D","r":2,"s":"dcl2/4","x":1.75,"y":0.49},{"c":"D","r":2,"s":"dcl2/4","x":1.94,"y":0.45},{"c":"D","r":2,"s":"dcl2/4","x":2.06,"y":0.295},{"c":"D","r":2,"s":"dcl2/4","x":2.31,"y":0.265},{"c":"D","r":2,"s":"dcl2/4","x":2.57,"y":0.175},{"c":"D","r":2,"s":"dcl2/4","x":2.79,"y":0.215},{"c":"D","r":2,"s":"dcl2/4","x":2.98,"y":0.275},
{"c":"D","r":2,"s":"dcl3","x":0.87,"y":0.345},{"c":"D","r":2,"s":"dcl3","x":1.08,"y":0.50},{"c":"D","r":2,"s":"dcl3","x":1.31,"y":0.495},{"c":"D","r":2,"s":"dcl3","x":1.56,"y":0.49},{"c":"D","r":2,"s":"dcl3","x":1.75,"y":0.495},{"c":"D","r":2,"s":"dcl3","x":1.94,"y":0.48},{"c":"D","r":2,"s":"dcl3","x":2.06,"y":0.30},{"c":"D","r":2,"s":"dcl3","x":2.31,"y":0.26},
{"c":"D","r":2,"s":"dcl4","x":0,"y":0.275},{"c":"D","r":2,"s":"dcl4","x":0.23,"y":0.24},{"c":"D","r":2,"s":"dcl4","x":0.44,"y":0.21},{"c":"D","r":2,"s":"dcl4","x":0.68,"y":0.25},{"c":"D","r":2,"s":"dcl4","x":0.87,"y":0.32},{"c":"D","r":2,"s":"dcl4","x":1.08,"y":0.373},{"c":"D","r":2,"s":"dcl4","x":1.31,"y":0.381},{"c":"D","r":2,"s":"dcl4","x":1.56,"y":0.333},{"c":"D","r":2,"s":"dcl4","x":1.75,"y":0.401},{"c":"D","r":2,"s":"dcl4","x":1.94,"y":0.288},{"c":"D","r":2,"s":"dcl4","x":2.06,"y":0.28},{"c":"D","r":2,"s":"dcl4","x":2.31,"y":0.255},{"c":"D","r":2,"s":"dcl4","x":2.57,"y":0.165},{"c":"D","r":2,"s":"dcl4","x":2.79,"y":0.205},{"c":"D","r":2,"s":"dcl4","x":2.98,"y":0.265},
{"c":"D","r":2,"s":"WT","x":0,"y":0.282},{"c":"D","r":2,"s":"WT","x":0.23,"y":0.246},{"c":"D","r":2,"s":"WT","x":0.44,"y":0.218},{"c":"D","r":2,"s":"WT","x":0.68,"y":0.26},{"c":"D","r":2,"s":"WT","x":0.87,"y":0.339},{"c":"D","r":2,"s":"WT","x":1.08,"y":0.475},{"c":"D","r":2,"s":"WT","x":1.31,"y":0.424},{"c":"D","r":2,"s":"WT","x":1.56,"y":0.452},{"c":"D","r":2,"s":"WT","x":1.75,"y":0.472},{"c":"D","r":2,"s":"WT","x":1.94,"y":0.396},{"c":"D","r":2,"s":"WT","x":2.06,"y":0.288},{"c":"D","r":2,"s":"WT","x":2.31,"y":0.26},{"c":"D","r":2,"s":"WT","x":2.57,"y":0.17},{"c":"D","r":2,"s":"WT","x":2.79,"y":0.212},{"c":"D","r":2,"s":"WT","x":2.98,"y":0.27},

{"c":"E","r":2,"s":"dcl2/4","x":0.8,"y":0.22},{"c":"E","r":2,"s":"dcl2/4","x":1.06,"y":0.466},{"c":"E","r":2,"s":"dcl2/4","x":1.25,"y":0.33},{"c":"E","r":2,"s":"dcl2/4","x":1.47,"y":0.47},{"c":"E","r":2,"s":"dcl2/4","x":1.65,"y":0.40},{"c":"E","r":2,"s":"dcl2/4","x":1.9,"y":0.565},{"c":"E","r":2,"s":"dcl2/4","x":2.1,"y":0.25},
{"c":"E","r":2,"s":"dcl3","x":0,"y":0.184},{"c":"E","r":2,"s":"dcl3","x":0.43,"y":0.198},{"c":"E","r":2,"s":"dcl3","x":0.62,"y":0.127},{"c":"E","r":2,"s":"dcl3","x":0.87,"y":0.169},{"c":"E","r":2,"s":"dcl3","x":1.25,"y":0.133},{"c":"E","r":2,"s":"dcl3","x":1.52,"y":0.218},{"c":"E","r":2,"s":"dcl3","x":1.75,"y":0.155},{"c":"E","r":2,"s":"dcl3","x":1.94,"y":0.218},{"c":"E","r":2,"s":"dcl3","x":2.19,"y":0.178},{"c":"E","r":2,"s":"dcl3","x":2.38,"y":0.19},{"c":"E","r":2,"s":"dcl3","x":2.7,"y":0.16},{"c":"E","r":2,"s":"dcl3","x":2.98,"y":0.125},
{"c":"E","r":2,"s":"WT","x":0,"y":0.184},{"c":"E","r":2,"s":"WT","x":0.43,"y":0.198},{"c":"E","r":2,"s":"WT","x":0.62,"y":0.127},{"c":"E","r":2,"s":"WT","x":0.8,"y":0.212},{"c":"E","r":2,"s":"WT","x":1.06,"y":0.438},{"c":"E","r":2,"s":"WT","x":1.25,"y":0.311},{"c":"E","r":2,"s":"WT","x":1.47,"y":0.452},{"c":"E","r":2,"s":"WT","x":1.65,"y":0.381},{"c":"E","r":2,"s":"WT","x":1.9,"y":0.536},{"c":"E","r":2,"s":"WT","x":2.1,"y":0.24},{"c":"E","r":2,"s":"WT","x":2.38,"y":0.198},{"c":"E","r":2,"s":"WT","x":2.7,"y":0.161},{"c":"E","r":2,"s":"WT","x":2.98,"y":0.127},

{"c":"F","r":2,"s":"dcl2/3/4","x":0.83,"y":0.33},{"c":"F","r":2,"s":"dcl2/3/4","x":1.08,"y":0.51},{"c":"F","r":2,"s":"dcl2/3/4","x":1.33,"y":0.47},{"c":"F","r":2,"s":"dcl2/3/4","x":1.71,"y":0.53},{"c":"F","r":2,"s":"dcl2/3/4","x":1.9,"y":0.44},{"c":"F","r":2,"s":"dcl2/3/4","x":2.13,"y":0.33},
{"c":"F","r":2,"s":"dcl2/4","x":0.83,"y":0.33},{"c":"F","r":2,"s":"dcl2/4","x":1.08,"y":0.50},{"c":"F","r":2,"s":"dcl2/4","x":1.33,"y":0.48},{"c":"F","r":2,"s":"dcl2/4","x":1.71,"y":0.55},{"c":"F","r":2,"s":"dcl2/4","x":1.9,"y":0.45},{"c":"F","r":2,"s":"dcl2/4","x":2.13,"y":0.33},
{"c":"F","r":2,"s":"WT","x":0,"y":0.203},{"c":"F","r":2,"s":"WT","x":0.39,"y":0.184},{"c":"F","r":2,"s":"WT","x":0.77,"y":0.198},{"c":"F","r":2,"s":"WT","x":1.02,"y":0.239},{"c":"F","r":2,"s":"WT","x":1.27,"y":0.268},{"c":"F","r":2,"s":"WT","x":1.46,"y":0.254},{"c":"F","r":2,"s":"WT","x":1.71,"y":0.302},{"c":"F","r":2,"s":"WT","x":1.92,"y":0.161},{"c":"F","r":2,"s":"WT","x":2.09,"y":0.26},{"c":"F","r":2,"s":"WT","x":2.41,"y":0.226},{"c":"F","r":2,"s":"WT","x":2.66,"y":0.21},{"c":"F","r":2,"s":"WT","x":2.97,"y":0.203},
{"c":"F","r":2,"s":"dcl4","x":0,"y":0.226},{"c":"F","r":2,"s":"dcl4","x":0.39,"y":0.22},{"c":"F","r":2,"s":"dcl4","x":0.64,"y":0.212},{"c":"F","r":2,"s":"dcl4","x":0.83,"y":0.325},{"c":"F","r":2,"s":"dcl4","x":1.08,"y":0.494},{"c":"F","r":2,"s":"dcl4","x":1.33,"y":0.466},{"c":"F","r":2,"s":"dcl4","x":1.71,"y":0.53},{"c":"F","r":2,"s":"dcl4","x":1.9,"y":0.438},{"c":"F","r":2,"s":"dcl4","x":2.13,"y":0.325},{"c":"F","r":2,"s":"dcl4","x":2.41,"y":0.268},{"c":"F","r":2,"s":"dcl4","x":2.66,"y":0.226},{"c":"F","r":2,"s":"dcl4","x":2.97,"y":0.218},

{"c":"G","r":2,"s":"dcl2","x":0,"y":0.285},{"c":"G","r":2,"s":"dcl2","x":0.34,"y":0.305},{"c":"G","r":2,"s":"dcl2","x":0.68,"y":0.325},{"c":"G","r":2,"s":"dcl2","x":0.98,"y":0.342},{"c":"G","r":2,"s":"dcl2","x":1.0,"y":0.23},{"c":"G","r":2,"s":"dcl2","x":1.05,"y":0.48},{"c":"G","r":2,"s":"dcl2","x":1.17,"y":0.46},{"c":"G","r":2,"s":"dcl2","x":1.28,"y":0.49},{"c":"G","r":2,"s":"dcl2","x":1.4,"y":0.46},{"c":"G","r":2,"s":"dcl2","x":1.51,"y":0.48},{"c":"G","r":2,"s":"dcl2","x":1.62,"y":0.46},{"c":"G","r":2,"s":"dcl2","x":1.74,"y":0.49},{"c":"G","r":2,"s":"dcl2","x":1.85,"y":0.46},{"c":"G","r":2,"s":"dcl2","x":1.96,"y":0.47},{"c":"G","r":2,"s":"dcl2","x":1.99,"y":0.19},{"c":"G","r":2,"s":"dcl2","x":2.05,"y":0.427},{"c":"G","r":2,"s":"dcl2","x":2.34,"y":0.373},{"c":"G","r":2,"s":"dcl2","x":2.68,"y":0.322},{"c":"G","r":2,"s":"dcl2","x":2.99,"y":0.285},
{"c":"G","r":2,"s":"dcl2/4","x":0,"y":0.34},{"c":"G","r":2,"s":"dcl2/4","x":0.34,"y":0.36},{"c":"G","r":2,"s":"dcl2/4","x":0.68,"y":0.38},{"c":"G","r":2,"s":"dcl2/4","x":0.98,"y":0.397},{"c":"G","r":2,"s":"dcl2/4","x":1.0,"y":0.29},{"c":"G","r":2,"s":"dcl2/4","x":1.05,"y":0.53},{"c":"G","r":2,"s":"dcl2/4","x":1.17,"y":0.51},{"c":"G","r":2,"s":"dcl2/4","x":1.28,"y":0.54},{"c":"G","r":2,"s":"dcl2/4","x":1.4,"y":0.51},{"c":"G","r":2,"s":"dcl2/4","x":1.51,"y":0.53},{"c":"G","r":2,"s":"dcl2/4","x":1.62,"y":0.51},{"c":"G","r":2,"s":"dcl2/4","x":1.74,"y":0.54},{"c":"G","r":2,"s":"dcl2/4","x":1.85,"y":0.51},{"c":"G","r":2,"s":"dcl2/4","x":1.96,"y":0.52},{"c":"G","r":2,"s":"dcl2/4","x":1.99,"y":0.24},{"c":"G","r":2,"s":"dcl2/4","x":2.05,"y":0.482},{"c":"G","r":2,"s":"dcl2/4","x":2.34,"y":0.428},{"c":"G","r":2,"s":"dcl2/4","x":2.68,"y":0.377},{"c":"G","r":2,"s":"dcl2/4","x":2.99,"y":0.34},
{"c":"G","r":2,"s":"dcl4","x":0,"y":0.33},{"c":"G","r":2,"s":"dcl4","x":0.34,"y":0.35},{"c":"G","r":2,"s":"dcl4","x":0.68,"y":0.37},{"c":"G","r":2,"s":"dcl4","x":0.98,"y":0.387},{"c":"G","r":2,"s":"dcl4","x":1.0,"y":0.27},{"c":"G","r":2,"s":"dcl4","x":1.05,"y":0.54},{"c":"G","r":2,"s":"dcl4","x":1.17,"y":0.56},{"c":"G","r":2,"s":"dcl4","x":1.28,"y":0.53},{"c":"G","r":2,"s":"dcl4","x":1.4,"y":0.57},{"c":"G","r":2,"s":"dcl4","x":1.51,"y":0.54},{"c":"G","r":2,"s":"dcl4","x":1.62,"y":0.58},{"c":"G","r":2,"s":"dcl4","x":1.74,"y":0.55},{"c":"G","r":2,"s":"dcl4","x":1.85,"y":0.57},{"c":"G","r":2,"s":"dcl4","x":1.96,"y":0.56},{"c":"G","r":2,"s":"dcl4","x":1.99,"y":0.23},{"c":"G","r":2,"s":"dcl4","x":2.05,"y":0.472},{"c":"G","r":2,"s":"dcl4","x":2.34,"y":0.418},{"c":"G","r":2,"s":"dcl4","x":2.68,"y":0.367},{"c":"G","r":2,"s":"dcl4","x":2.99,"y":0.33},
{"c":"G","r":2,"s":"WT","x":0,"y":0.31},{"c":"G","r":2,"s":"WT","x":0.34,"y":0.33},{"c":"G","r":2,"s":"WT","x":0.68,"y":0.35},{"c":"G","r":2,"s":"WT","x":0.98,"y":0.367},{"c":"G","r":2,"s":"WT","x":1.0,"y":0.254},{"c":"G","r":2,"s":"WT","x":1.05,"y":0.508},{"c":"G","r":2,"s":"WT","x":1.17,"y":0.483},{"c":"G","r":2,"s":"WT","x":1.28,"y":0.517},{"c":"G","r":2,"s":"WT","x":1.4,"y":0.483},{"c":"G","r":2,"s":"WT","x":1.51,"y":0.508},{"c":"G","r":2,"s":"WT","x":1.62,"y":0.483},{"c":"G","r":2,"s":"WT","x":1.74,"y":0.517},{"c":"G","r":2,"s":"WT","x":1.85,"y":0.483},{"c":"G","r":2,"s":"WT","x":1.96,"y":0.50},{"c":"G","r":2,"s":"WT","x":1.99,"y":0.212},{"c":"G","r":2,"s":"WT","x":2.05,"y":0.452},{"c":"G","r":2,"s":"WT","x":2.34,"y":0.398},{"c":"G","r":2,"s":"WT","x":2.68,"y":0.347},{"c":"G","r":2,"s":"WT","x":2.99,"y":0.31},

{"c":"H","r":2,"s":"dcl2/3/4","x":0,"y":0.085},{"c":"H","r":2,"s":"dcl2/3/4","x":0.78,"y":0.095},{"c":"H","r":2,"s":"dcl2/3/4","x":0.93,"y":0.13},{"c":"H","r":2,"s":"dcl2/3/4","x":1.01,"y":0.34},{"c":"H","r":2,"s":"dcl2/3/4","x":1.16,"y":0.36},{"c":"H","r":2,"s":"dcl2/3/4","x":1.28,"y":0.35},{"c":"H","r":2,"s":"dcl2/3/4","x":1.4,"y":0.37},{"c":"H","r":2,"s":"dcl2/3/4","x":1.54,"y":0.35},{"c":"H","r":2,"s":"dcl2/3/4","x":1.62,"y":0.36},{"c":"H","r":2,"s":"dcl2/3/4","x":1.72,"y":0.34},{"c":"H","r":2,"s":"dcl2/3/4","x":1.81,"y":0.36},{"c":"H","r":2,"s":"dcl2/3/4","x":1.89,"y":0.33},{"c":"H","r":2,"s":"dcl2/3/4","x":1.95,"y":0.32},{"c":"H","r":2,"s":"dcl2/3/4","x":2.0,"y":0.15},{"c":"H","r":2,"s":"dcl2/3/4","x":2.16,"y":0.095},{"c":"H","r":2,"s":"dcl2/3/4","x":2.98,"y":0.085},
{"c":"H","r":2,"s":"dcl3","x":0,"y":0.09},{"c":"H","r":2,"s":"dcl3","x":0.78,"y":0.10},{"c":"H","r":2,"s":"dcl3","x":0.93,"y":0.14},{"c":"H","r":2,"s":"dcl3","x":1.01,"y":0.40},{"c":"H","r":2,"s":"dcl3","x":1.16,"y":0.42},{"c":"H","r":2,"s":"dcl3","x":1.28,"y":0.41},{"c":"H","r":2,"s":"dcl3","x":1.4,"y":0.43},{"c":"H","r":2,"s":"dcl3","x":1.54,"y":0.41},{"c":"H","r":2,"s":"dcl3","x":1.62,"y":0.43},{"c":"H","r":2,"s":"dcl3","x":1.72,"y":0.40},{"c":"H","r":2,"s":"dcl3","x":1.81,"y":0.42},{"c":"H","r":2,"s":"dcl3","x":1.89,"y":0.40},{"c":"H","r":2,"s":"dcl3","x":1.95,"y":0.38},{"c":"H","r":2,"s":"dcl3","x":2.0,"y":0.16},{"c":"H","r":2,"s":"dcl3","x":2.16,"y":0.10},{"c":"H","r":2,"s":"dcl3","x":2.98,"y":0.09},
{"c":"H","r":2,"s":"dcl4","x":0.93,"y":0.15},{"c":"H","r":2,"s":"dcl4","x":1.01,"y":0.56},{"c":"H","r":2,"s":"dcl4","x":1.16,"y":0.59},{"c":"H","r":2,"s":"dcl4","x":1.28,"y":0.60},{"c":"H","r":2,"s":"dcl4","x":1.4,"y":0.58},{"c":"H","r":2,"s":"dcl4","x":1.54,"y":0.60},{"c":"H","r":2,"s":"dcl4","x":1.62,"y":0.57},{"c":"H","r":2,"s":"dcl4","x":1.72,"y":0.59},{"c":"H","r":2,"s":"dcl4","x":1.81,"y":0.58},{"c":"H","r":2,"s":"dcl4","x":1.89,"y":0.60},{"c":"H","r":2,"s":"dcl4","x":1.95,"y":0.53},{"c":"H","r":2,"s":"dcl4","x":2.0,"y":0.18},
{"c":"H","r":2,"s":"WT","x":0,"y":0.104},{"c":"H","r":2,"s":"WT","x":0.38,"y":0.11},{"c":"H","r":2,"s":"WT","x":0.78,"y":0.113},{"c":"H","r":2,"s":"WT","x":0.93,"y":0.155},{"c":"H","r":2,"s":"WT","x":1.01,"y":0.551},{"c":"H","r":2,"s":"WT","x":1.16,"y":0.607},{"c":"H","r":2,"s":"WT","x":1.28,"y":0.58},{"c":"H","r":2,"s":"WT","x":1.4,"y":0.61},{"c":"H","r":2,"s":"WT","x":1.54,"y":0.613},{"c":"H","r":2,"s":"WT","x":1.62,"y":0.58},{"c":"H","r":2,"s":"WT","x":1.72,"y":0.579},{"c":"H","r":2,"s":"WT","x":1.81,"y":0.61},{"c":"H","r":2,"s":"WT","x":1.89,"y":0.607},{"c":"H","r":2,"s":"WT","x":1.95,"y":0.537},{"c":"H","r":2,"s":"WT","x":2.0,"y":0.184},{"c":"H","r":2,"s":"WT","x":2.16,"y":0.113},{"c":"H","r":2,"s":"WT","x":2.6,"y":0.104},{"c":"H","r":2,"s":"WT","x":2.98,"y":0.104},

{"c":"I","r":2,"s":"dcl2/3/4","x":0,"y":0.12},{"c":"I","r":2,"s":"dcl2/3/4","x":0.43,"y":0.13},{"c":"I","r":2,"s":"dcl2/3/4","x":0.81,"y":0.18},{"c":"I","r":2,"s":"dcl2/3/4","x":0.93,"y":0.33},{"c":"I","r":2,"s":"dcl2/3/4","x":1.03,"y":0.339},{"c":"I","r":2,"s":"dcl2/3/4","x":1.25,"y":0.367},{"c":"I","r":2,"s":"dcl2/3/4","x":1.5,"y":0.415},{"c":"I","r":2,"s":"dcl2/3/4","x":1.69,"y":0.375},{"c":"I","r":2,"s":"dcl2/3/4","x":1.92,"y":0.381},{"c":"I","r":2,"s":"dcl2/3/4","x":2.0,"y":0.113},{"c":"I","r":2,"s":"dcl2/3/4","x":2.19,"y":0.12},{"c":"I","r":2,"s":"dcl2/3/4","x":2.57,"y":0.12},{"c":"I","r":2,"s":"dcl2/3/4","x":2.82,"y":0.14},{"c":"I","r":2,"s":"dcl2/3/4","x":3.0,"y":0.12},
{"c":"I","r":2,"s":"dcl3","x":0.81,"y":0.19},{"c":"I","r":2,"s":"dcl3","x":0.93,"y":0.34},{"c":"I","r":2,"s":"dcl3","x":1.02,"y":0.56},{"c":"I","r":2,"s":"dcl3","x":1.19,"y":0.57},{"c":"I","r":2,"s":"dcl3","x":1.38,"y":0.57},{"c":"I","r":2,"s":"dcl3","x":1.5,"y":0.55},{"c":"I","r":2,"s":"dcl3","x":1.69,"y":0.585},{"c":"I","r":2,"s":"dcl3","x":1.88,"y":0.59},{"c":"I","r":2,"s":"dcl3","x":1.98,"y":0.56},{"c":"I","r":2,"s":"dcl3","x":2.04,"y":0.20},
{"c":"I","r":2,"s":"WT","x":0,"y":0.133},{"c":"I","r":2,"s":"WT","x":0.43,"y":0.141},{"c":"I","r":2,"s":"WT","x":0.81,"y":0.197},{"c":"I","r":2,"s":"WT","x":0.93,"y":0.35},{"c":"I","r":2,"s":"WT","x":1.02,"y":0.579},{"c":"I","r":2,"s":"WT","x":1.19,"y":0.579},{"c":"I","r":2,"s":"WT","x":1.38,"y":0.585},{"c":"I","r":2,"s":"WT","x":1.5,"y":0.631},{"c":"I","r":2,"s":"WT","x":1.69,"y":0.602},{"c":"I","r":2,"s":"WT","x":1.88,"y":0.602},{"c":"I","r":2,"s":"WT","x":1.98,"y":0.574},{"c":"I","r":2,"s":"WT","x":2.04,"y":0.212},{"c":"I","r":2,"s":"WT","x":2.19,"y":0.141},{"c":"I","r":2,"s":"WT","x":2.57,"y":0.127},{"c":"I","r":2,"s":"WT","x":2.82,"y":0.155},{"c":"I","r":2,"s":"WT","x":3.0,"y":0.133},

{"c":"J","r":2,"s":"dcl2/3/4","x":0,"y":0.075},{"c":"J","r":2,"s":"dcl2/3/4","x":0.83,"y":0.075},{"c":"J","r":2,"s":"dcl2/3/4","x":0.95,"y":0.15},{"c":"J","r":2,"s":"dcl2/3/4","x":1.08,"y":0.322},{"c":"J","r":2,"s":"dcl2/3/4","x":1.21,"y":0.33},{"c":"J","r":2,"s":"dcl2/3/4","x":1.39,"y":0.31},{"c":"J","r":2,"s":"dcl2/3/4","x":1.51,"y":0.339},{"c":"J","r":2,"s":"dcl2/3/4","x":1.64,"y":0.32},{"c":"J","r":2,"s":"dcl2/3/4","x":1.77,"y":0.339},{"c":"J","r":2,"s":"dcl2/3/4","x":1.9,"y":0.297},{"c":"J","r":2,"s":"dcl2/3/4","x":2.06,"y":0.10},{"c":"J","r":2,"s":"dcl2/3/4","x":2.21,"y":0.08},{"c":"J","r":2,"s":"dcl2/3/4","x":2.97,"y":0.09},
{"c":"J","r":2,"s":"dcl3","x":0,"y":0.08},{"c":"J","r":2,"s":"dcl3","x":0.83,"y":0.08},{"c":"J","r":2,"s":"dcl3","x":0.95,"y":0.2},{"c":"J","r":2,"s":"dcl3","x":1.08,"y":0.508},{"c":"J","r":2,"s":"dcl3","x":1.21,"y":0.55},{"c":"J","r":2,"s":"dcl3","x":1.38,"y":0.508},{"c":"J","r":2,"s":"dcl3","x":1.58,"y":0.565},{"c":"J","r":2,"s":"dcl3","x":1.71,"y":0.574},{"c":"J","r":2,"s":"dcl3","x":1.86,"y":0.537},{"c":"J","r":2,"s":"dcl3","x":1.98,"y":0.381},{"c":"J","r":2,"s":"dcl3","x":2.1,"y":0.127},{"c":"J","r":2,"s":"dcl3","x":2.21,"y":0.09},{"c":"J","r":2,"s":"dcl3","x":2.46,"y":0.08},{"c":"J","r":2,"s":"dcl3","x":2.97,"y":0.095},
{"c":"J","r":2,"s":"WT","x":0,"y":0.085},{"c":"J","r":2,"s":"WT","x":0.41,"y":0.085},{"c":"J","r":2,"s":"WT","x":0.83,"y":0.085},{"c":"J","r":2,"s":"WT","x":0.95,"y":0.269},{"c":"J","r":2,"s":"WT","x":1.08,"y":0.692},{"c":"J","r":2,"s":"WT","x":1.27,"y":0.726},{"c":"J","r":2,"s":"WT","x":1.46,"y":0.706},{"c":"J","r":2,"s":"WT","x":1.58,"y":0.748},{"c":"J","r":2,"s":"WT","x":1.71,"y":0.763},{"c":"J","r":2,"s":"WT","x":1.86,"y":0.72},{"c":"J","r":2,"s":"WT","x":1.96,"y":0.663},{"c":"J","r":2,"s":"WT","x":2.06,"y":0.212},{"c":"J","r":2,"s":"WT","x":2.21,"y":0.099},{"c":"J","r":2,"s":"WT","x":2.46,"y":0.085},{"c":"J","r":2,"s":"WT","x":2.72,"y":0.09},{"c":"J","r":2,"s":"WT","x":2.97,"y":0.099},

{"c":"A","r":3,"s":"dcl4","x":0,"y":0.152},{"c":"A","r":3,"s":"dcl4","x":0.4,"y":0.177},{"c":"A","r":3,"s":"dcl4","x":0.81,"y":0.209},{"c":"A","r":3,"s":"dcl4","x":1.06,"y":0.374},{"c":"A","r":3,"s":"dcl4","x":1.31,"y":0.337},{"c":"A","r":3,"s":"dcl4","x":1.62,"y":0.342},{"c":"A","r":3,"s":"dcl4","x":1.87,"y":0.444},{"c":"A","r":3,"s":"dcl4","x":2.09,"y":0.196},{"c":"A","r":3,"s":"dcl4","x":2.5,"y":0.177},{"c":"A","r":3,"s":"dcl4","x":2.97,"y":0.159},
{"c":"A","r":3,"s":"WT","x":0,"y":0.14},{"c":"A","r":3,"s":"WT","x":0.4,"y":0.165},{"c":"A","r":3,"s":"WT","x":0.81,"y":0.197},{"c":"A","r":3,"s":"WT","x":1.06,"y":0.362},{"c":"A","r":3,"s":"WT","x":1.31,"y":0.325},{"c":"A","r":3,"s":"WT","x":1.62,"y":0.33},{"c":"A","r":3,"s":"WT","x":1.87,"y":0.432},{"c":"A","r":3,"s":"WT","x":2.09,"y":0.184},{"c":"A","r":3,"s":"WT","x":2.5,"y":0.165},{"c":"A","r":3,"s":"WT","x":2.97,"y":0.147},

{"c":"B","r":3,"s":"dcl2","x":0,"y":0.14},{"c":"B","r":3,"s":"dcl2","x":0.57,"y":0.205},{"c":"B","r":3,"s":"dcl2","x":0.76,"y":0.178},{"c":"B","r":3,"s":"dcl2","x":1.06,"y":0.14},{"c":"B","r":3,"s":"dcl2","x":1.33,"y":0.169},{"c":"B","r":3,"s":"dcl2","x":1.65,"y":0.175},{"c":"B","r":3,"s":"dcl2","x":1.84,"y":0.189},{"c":"B","r":3,"s":"dcl2","x":2.07,"y":0.178},{"c":"B","r":3,"s":"dcl2","x":2.53,"y":0.175},{"c":"B","r":3,"s":"dcl2","x":2.97,"y":0.14},
{"c":"B","r":3,"s":"WT","x":0,"y":0.14},{"c":"B","r":3,"s":"WT","x":0.57,"y":0.205},{"c":"B","r":3,"s":"WT","x":0.76,"y":0.212},{"c":"B","r":3,"s":"WT","x":1.06,"y":0.311},{"c":"B","r":3,"s":"WT","x":1.27,"y":0.303},{"c":"B","r":3,"s":"WT","x":1.65,"y":0.325},{"c":"B","r":3,"s":"WT","x":1.9,"y":0.375},{"c":"B","r":3,"s":"WT","x":2.11,"y":0.197},{"c":"B","r":3,"s":"WT","x":2.53,"y":0.178},{"c":"B","r":3,"s":"WT","x":2.97,"y":0.14},
{"c":"B","r":3,"s":"dcl4","x":0,"y":0.145},{"c":"B","r":3,"s":"dcl4","x":0.57,"y":0.21},{"c":"B","r":3,"s":"dcl4","x":0.76,"y":0.22},{"c":"B","r":3,"s":"dcl4","x":1.06,"y":0.32},{"c":"B","r":3,"s":"dcl4","x":1.27,"y":0.315},{"c":"B","r":3,"s":"dcl4","x":1.65,"y":0.335},{"c":"B","r":3,"s":"dcl4","x":1.9,"y":0.385},{"c":"B","r":3,"s":"dcl4","x":2.11,"y":0.20},{"c":"B","r":3,"s":"dcl4","x":2.53,"y":0.18},{"c":"B","r":3,"s":"dcl4","x":2.97,"y":0.145},

{"c":"H","r":3,"s":"dcl2/3/4","x":0,"y":0.06},{"c":"H","r":3,"s":"dcl2/3/4","x":0.66,"y":0.07},{"c":"H","r":3,"s":"dcl2/3/4","x":0.91,"y":0.10},{"c":"H","r":3,"s":"dcl2/3/4","x":1.04,"y":0.22},{"c":"H","r":3,"s":"dcl2/3/4","x":1.28,"y":0.225},{"c":"H","r":3,"s":"dcl2/3/4","x":1.5,"y":0.23},{"c":"H","r":3,"s":"dcl2/3/4","x":1.64,"y":0.245},{"c":"H","r":3,"s":"dcl2/3/4","x":1.85,"y":0.22},{"c":"H","r":3,"s":"dcl2/3/4","x":1.98,"y":0.14},{"c":"H","r":3,"s":"dcl2/3/4","x":2.17,"y":0.09},{"c":"H","r":3,"s":"dcl2/3/4","x":2.98,"y":0.065},
{"c":"H","r":3,"s":"dcl3","x":0,"y":0.07},{"c":"H","r":3,"s":"dcl3","x":0.66,"y":0.08},{"c":"H","r":3,"s":"dcl3","x":0.91,"y":0.11},{"c":"H","r":3,"s":"dcl3","x":1.04,"y":0.24},{"c":"H","r":3,"s":"dcl3","x":1.1,"y":0.246},{"c":"H","r":3,"s":"dcl3","x":1.28,"y":0.254},{"c":"H","r":3,"s":"dcl3","x":1.5,"y":0.246},{"c":"H","r":3,"s":"dcl3","x":1.64,"y":0.268},{"c":"H","r":3,"s":"dcl3","x":1.85,"y":0.24},{"c":"H","r":3,"s":"dcl3","x":1.98,"y":0.155},{"c":"H","r":3,"s":"dcl3","x":2.17,"y":0.10},{"c":"H","r":3,"s":"dcl3","x":2.98,"y":0.075},
{"c":"H","r":3,"s":"WT","x":0,"y":0.076},{"c":"H","r":3,"s":"WT","x":0.66,"y":0.085},{"c":"H","r":3,"s":"WT","x":0.91,"y":0.127},{"c":"H","r":3,"s":"WT","x":1.04,"y":0.324},{"c":"H","r":3,"s":"WT","x":1.13,"y":0.508},{"c":"H","r":3,"s":"WT","x":1.28,"y":0.522},{"c":"H","r":3,"s":"WT","x":1.53,"y":0.522},{"c":"H","r":3,"s":"WT","x":1.72,"y":0.508},{"c":"H","r":3,"s":"WT","x":1.89,"y":0.451},{"c":"H","r":3,"s":"WT","x":1.98,"y":0.311},{"c":"H","r":3,"s":"WT","x":2.08,"y":0.127},{"c":"H","r":3,"s":"WT","x":2.29,"y":0.085},{"c":"H","r":3,"s":"WT","x":2.98,"y":0.08},

{"c":"I","r":3,"s":"dcl2/3/4","x":0,"y":0.06},{"c":"I","r":3,"s":"dcl2/3/4","x":0.49,"y":0.07},{"c":"I","r":3,"s":"dcl2/3/4","x":0.81,"y":0.10},{"c":"I","r":3,"s":"dcl2/3/4","x":0.99,"y":0.198},{"c":"I","r":3,"s":"dcl2/3/4","x":1.18,"y":0.269},{"c":"I","r":3,"s":"dcl2/3/4","x":1.43,"y":0.291},{"c":"I","r":3,"s":"dcl2/3/4","x":1.69,"y":0.282},{"c":"I","r":3,"s":"dcl2/3/4","x":1.94,"y":0.212},{"c":"I","r":3,"s":"dcl2/3/4","x":2.13,"y":0.112},{"c":"I","r":3,"s":"dcl2/3/4","x":2.31,"y":0.08},{"c":"I","r":3,"s":"dcl2/3/4","x":3.0,"y":0.065},
{"c":"I","r":3,"s":"dcl3","x":0,"y":0.065},{"c":"I","r":3,"s":"dcl3","x":0.49,"y":0.078},{"c":"I","r":3,"s":"dcl3","x":0.81,"y":0.11},{"c":"I","r":3,"s":"dcl3","x":0.99,"y":0.34},{"c":"I","r":3,"s":"dcl3","x":1.18,"y":0.55},{"c":"I","r":3,"s":"dcl3","x":1.43,"y":0.59},{"c":"I","r":3,"s":"dcl3","x":1.69,"y":0.56},{"c":"I","r":3,"s":"dcl3","x":1.88,"y":0.49},{"c":"I","r":3,"s":"dcl3","x":2.0,"y":0.34},{"c":"I","r":3,"s":"dcl3","x":2.13,"y":0.13},{"c":"I","r":3,"s":"dcl3","x":2.31,"y":0.09},{"c":"I","r":3,"s":"dcl3","x":3.0,"y":0.07},
{"c":"I","r":3,"s":"WT","x":0,"y":0.072},{"c":"I","r":3,"s":"WT","x":0.49,"y":0.085},{"c":"I","r":3,"s":"WT","x":0.81,"y":0.127},{"c":"I","r":3,"s":"WT","x":0.99,"y":0.381},{"c":"I","r":3,"s":"WT","x":1.18,"y":0.58},{"c":"I","r":3,"s":"WT","x":1.43,"y":0.614},{"c":"I","r":3,"s":"WT","x":1.69,"y":0.585},{"c":"I","r":3,"s":"WT","x":1.88,"y":0.537},{"c":"I","r":3,"s":"WT","x":2.0,"y":0.381},{"c":"I","r":3,"s":"WT","x":2.13,"y":0.155},{"c":"I","r":3,"s":"WT","x":2.31,"y":0.099},{"c":"I","r":3,"s":"WT","x":3.0,"y":0.076},

{"c":"J","r":3,"s":"dcl2/3/4","x":0,"y":0.056},{"c":"J","r":3,"s":"dcl2/3/4","x":0.82,"y":0.06},{"c":"J","r":3,"s":"dcl2/3/4","x":0.95,"y":0.07},{"c":"J","r":3,"s":"dcl2/3/4","x":1.21,"y":0.112},{"c":"J","r":3,"s":"dcl2/3/4","x":1.52,"y":0.127},{"c":"J","r":3,"s":"dcl2/3/4","x":1.77,"y":0.119},{"c":"J","r":3,"s":"dcl2/3/4","x":1.96,"y":0.099},{"c":"J","r":3,"s":"dcl2/3/4","x":2.15,"y":0.065},{"c":"J","r":3,"s":"dcl2/3/4","x":2.97,"y":0.056},
{"c":"J","r":3,"s":"dcl3","x":0,"y":0.056},{"c":"J","r":3,"s":"dcl3","x":0.82,"y":0.065},{"c":"J","r":3,"s":"dcl3","x":0.95,"y":0.11},{"c":"J","r":3,"s":"dcl3","x":1.08,"y":0.348},{"c":"J","r":3,"s":"dcl3","x":1.21,"y":0.405},{"c":"J","r":3,"s":"dcl3","x":1.46,"y":0.415},{"c":"J","r":3,"s":"dcl3","x":1.71,"y":0.415},{"c":"J","r":3,"s":"dcl3","x":1.86,"y":0.39},{"c":"J","r":3,"s":"dcl3","x":2.03,"y":0.268},{"c":"J","r":3,"s":"dcl3","x":2.15,"y":0.099},{"c":"J","r":3,"s":"dcl3","x":2.97,"y":0.056},
{"c":"J","r":3,"s":"WT","x":0,"y":0.056},{"c":"J","r":3,"s":"WT","x":0.82,"y":0.065},{"c":"J","r":3,"s":"WT","x":0.95,"y":0.127},{"c":"J","r":3,"s":"WT","x":1.08,"y":0.621},{"c":"J","r":3,"s":"WT","x":1.27,"y":0.663},{"c":"J","r":3,"s":"WT","x":1.46,"y":0.678},{"c":"J","r":3,"s":"WT","x":1.71,"y":0.678},{"c":"J","r":3,"s":"WT","x":1.86,"y":0.65},{"c":"J","r":3,"s":"WT","x":1.96,"y":0.551},{"c":"J","r":3,"s":"WT","x":2.09,"y":0.24},{"c":"J","r":3,"s":"WT","x":2.21,"y":0.099},{"c":"J","r":3,"s":"WT","x":2.97,"y":0.056}
]},
"facet": {
  "row": {"field": "r", "type": "ordinal", "header": null},
  "column": {"field": "c", "type": "nominal", "header": null}
},
"spacing": {"row": 1, "column": 0.2},
"spec": {
  "width": 84,
  "height": 117,
  "layer": [
    {"transform": [{"aggregate": [{"op": "count", "as": "n"}], "groupby": ["c", "r"]}],
     "mark": {"type": "rule", "color": "#9a9a9a", "strokeWidth": 1, "strokeDash": [1, 3]},
     "encoding": {"x": {"datum": 1, "type": "quantitative", "scale": {"domain": [-0.11, 3.1], "nice": false, "zero": false}, "axis": null}, "y": {"datum": 0, "type": "quantitative", "scale": {"domain": [0, 1], "nice": false}, "axis": null}, "y2": {"datum": 1}}},
    {"transform": [{"aggregate": [{"op": "count", "as": "n"}], "groupby": ["c", "r"]}],
     "mark": {"type": "rule", "color": "#9a9a9a", "strokeWidth": 1, "strokeDash": [1, 3]},
     "encoding": {"x": {"datum": 2, "type": "quantitative", "scale": {"domain": [-0.11, 3.1], "nice": false, "zero": false}, "axis": null}, "y": {"datum": 0, "type": "quantitative", "scale": {"domain": [0, 1], "nice": false}, "axis": null}, "y2": {"datum": 1}}},
    {"mark": {"type": "line", "strokeWidth": 2.6, "strokeJoin": "round", "strokeCap": "round"},
     "encoding": {
       "x": {"field": "x", "type": "quantitative", "scale": {"domain": [-0.11, 3.1], "nice": false, "zero": false}, "axis": null},
       "y": {"field": "y", "type": "quantitative", "scale": {"domain": [0, 1], "nice": false}, "axis": null},
       "color": {"field": "s", "type": "nominal", "scale": {"domain": ["dcl2", "dcl2/3/4", "dcl2/4", "dcl3", "dcl4", "WT"], "range": ["#ff0000", "#ffff00", "#00ff00", "#00ffff", "#0000ff", "#ff00ff"]}, "legend": null}
     }},
    {"transform": [{"aggregate": [{"op": "count", "as": "n"}], "groupby": ["c", "r"]}],
     "mark": {"type": "rect", "filled": false, "stroke": "#4d4d4d", "strokeWidth": 1.5},
     "encoding": {"x": {"datum": -0.11, "type": "quantitative", "scale": {"domain": [-0.11, 3.1], "nice": false, "zero": false}, "axis": null}, "x2": {"datum": 3.1}, "y": {"datum": 0, "type": "quantitative", "scale": {"domain": [0, 1], "nice": false}, "axis": null}, "y2": {"datum": 1}}}
  ]
}
},
{
"data": {"values": [{"s": "dcl2"}, {"s": "dcl2/3/4"}, {"s": "dcl2/4"}, {"s": "dcl3"}, {"s": "dcl4"}, {"s": "WT"}]},
"width": 859,
"height": 24,
"encoding": {"x": {"field": "s", "type": "nominal", "sort": null, "scale": {"type": "point", "padding": 0.729}, "axis": null}},
"layer": [
  {"mark": {"type": "tick", "orient": "horizontal", "size": 82, "thickness": 2.5},
   "encoding": {"color": {"field": "s", "type": "nominal", "scale": {"domain": ["dcl2", "dcl2/3/4", "dcl2/4", "dcl3", "dcl4", "WT"], "range": ["#ff0000", "#ffff00", "#00ff00", "#00ffff", "#0000ff", "#ff00ff"]}, "legend": null}}},
  {"mark": {"type": "text", "dy": 18, "fontSize": 15, "font": "Liberation Sans", "color": "black"},
   "encoding": {"text": {"field": "s"}}}
]
},
{
"data": {"values": [
  {"ln": 1, "w": "b", "t": "Figure 3\u2002Profiles of cytosine methylation in the dcl mutants for identified differentially"},
  {"ln": 2, "w": "b", "t": "methylated loci."},
  {"ln": 2, "w": "r2", "t": "Average methylation profiles across the methylation loci (and the surrounding"},
  {"ln": 3, "w": "r", "t": "4Kb) identified for each model/context with an FDR of 5%. Profiles are shown for those"},
  {"ln": 4, "w": "r", "t": "model/context combinations in which at least 20 loci at this FDR could be identified."}
]},
"width": 859,
"height": 86,
"encoding": {
  "y": {"field": "ln", "type": "ordinal", "scale": {"type": "point", "padding": 0.5}, "axis": null},
  "x": {"datum": 0, "type": "quantitative", "scale": {"domain": [0, 1]}, "axis": null},
  "text": {"field": "t"}
},
"layer": [
  {"transform": [{"filter": "datum.w == 'b'"}], "mark": {"type": "text", "align": "left", "baseline": "alphabetic", "dx": -32, "dy": 55, "fontSize": 17.1, "fontWeight": "bold", "font": "DejaVu Sans", "color": "black"}},
  {"transform": [{"filter": "datum.w == 'r2'"}], "mark": {"type": "text", "align": "left", "baseline": "alphabetic", "dx": 128, "dy": 55, "fontSize": 18.7, "font": "DejaVu Sans", "color": "black"}},
  {"transform": [{"filter": "datum.w == 'r'"}], "mark": {"type": "text", "align": "left", "baseline": "alphabetic", "dx": -32, "dy": 55, "fontSize": 19.2, "font": "DejaVu Sans", "color": "black"}}
]
}
]
}
